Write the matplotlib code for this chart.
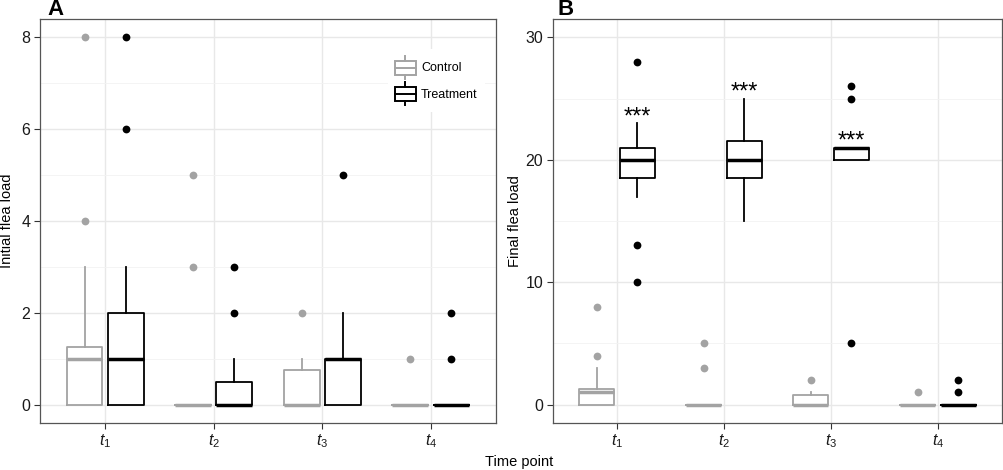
import matplotlib
matplotlib.use("Agg")
import matplotlib.pyplot as plt
from matplotlib.ticker import MultipleLocator
from matplotlib.legend_handler import HandlerBase
from matplotlib.patches import Rectangle, Patch
from matplotlib.lines import Line2D

plt.rcParams['font.family'] = ['Liberation Sans', 'DejaVu Sans']
plt.rcParams['mathtext.fontset'] = 'custom'
plt.rcParams['mathtext.it'] = 'Liberation Sans:italic'
plt.rcParams['mathtext.rm'] = 'Liberation Sans'

# data (box stats per time point)
time_points = ['$t_1$', '$t_2$', '$t_3$', '$t_4$']
groups = ['Control', 'Treatment']

# panel A - initial flea load
a_ctrl_q1 = [0, 0, 0, 0]
a_ctrl_med = [1, 0, 0, 0]
a_ctrl_q3 = [1.25, 0, 0.75, 0]
a_ctrl_lo = [0, 0, 0, 0]
a_ctrl_hi = [3, 0, 1, 0]
a_ctrl_out = [[4, 8], [3, 5], [2], [1]]

a_trt_q1 = [0, 0, 0, 0]
a_trt_med = [1, 0, 1, 0]
a_trt_q3 = [2, 0.5, 1, 0]
a_trt_lo = [0, 0, 0, 0]
a_trt_hi = [3, 1, 2, 0]
a_trt_out = [[6, 8], [2, 3], [5], [1, 2]]

# panel B - final flea load
b_ctrl_q1 = [0, 0, 0, 0]
b_ctrl_med = [1, 0, 0, 0]
b_ctrl_q3 = [1.25, 0, 0.75, 0]
b_ctrl_lo = [0, 0, 0, 0]
b_ctrl_hi = [3, 0, 1, 0]
b_ctrl_out = [[4, 8], [3, 5], [2], [1]]

b_trt_q1 = [18.5, 18.5, 20, 0]
b_trt_med = [20, 20, 21, 0]
b_trt_q3 = [21, 21.5, 21, 0]
b_trt_lo = [17, 15, 20, 0]
b_trt_hi = [23, 25, 21, 0]
b_trt_out = [[10, 13, 28], [], [5, 25, 26], [1, 2]]

signif = ['***', '***', '***', '']

ctrl_col = '#a3a3a3'
trt_col = '#000000'
grid_col = '#e8e8e8'
frame_col = '#555555'


def make_stats(q1, med, q3, lo, hi, out):
    return [dict(q1=q1[i], med=med[i], q3=q3[i], whislo=lo[i], whishi=hi[i], fliers=out[i])
            for i in range(len(q1))]


def draw_group(ax, stats, offset, col, lw_box, lw_med):
    pos = [i + 1 + offset for i in range(len(stats))]
    ax.bxp(stats, positions=pos, widths=0.33, showcaps=False, patch_artist=False,
           boxprops=dict(color=col, lw=lw_box),
           whiskerprops=dict(color=col, lw=lw_box),
           medianprops=dict(color=col, lw=lw_med, solid_capstyle='butt'),
           flierprops=dict(marker='o', markerfacecolor=col, markeredgecolor='none', markersize=5.6),
           manage_ticks=False, zorder=3)


def style_axes(ax, ylim, major, minor, ylabel):
    ax.set_xlim(0.4, 4.6)
    ax.set_ylim(*ylim)
    ax.set_xticks([1, 2, 3, 4])
    ax.set_xticklabels(time_points)
    ax.yaxis.set_major_locator(MultipleLocator(major))
    ax.yaxis.set_minor_locator(MultipleLocator(minor))
    ax.grid(True, which='major', color=grid_col, lw=1.0, zorder=0)
    ax.grid(True, which='minor', axis='y', color='#f2f2f2', lw=0.6, zorder=0)
    ax.set_axisbelow(True)
    ax.tick_params(axis='both', which='major', length=4, width=0.8, color='#333333',
                   labelsize=11.5, labelcolor='#1a1a1a', pad=3)
    ax.tick_params(axis='y', which='minor', length=0)
    for s in ax.spines.values():
        s.set_color(frame_col)
        s.set_linewidth(0.9)
    ax.set_ylabel(ylabel, fontsize=10.5, labelpad=4)


class BoxHandler(HandlerBase):
    def create_artists(self, legend, orig_handle, xdescent, ydescent, width, height, fontsize, trans):
        col = orig_handle.get_edgecolor()
        x0, y0 = -xdescent, -ydescent
        box = Rectangle((x0, y0 + 0.2 * height), width, 0.6 * height, fill=False,
                        edgecolor=col, lw=1.4, transform=trans)
        med = Line2D([x0, x0 + width], [y0 + 0.5 * height] * 2, color=col, lw=1.4, transform=trans)
        w1 = Line2D([x0 + width / 2] * 2, [y0, y0 + 0.2 * height], color=col, lw=1.4, transform=trans)
        w2 = Line2D([x0 + width / 2] * 2, [y0 + 0.8 * height, y0 + height], color=col, lw=1.4, transform=trans)
        return [box, med, w1, w2]


fig = plt.figure(figsize=(10.04, 4.70), dpi=100)
W, H = 1004, 470
axA = fig.add_axes([40 / W, 47 / H, 456 / W, 404 / H])
axB = fig.add_axes([553 / W, 47 / H, 449 / W, 404 / H])

# panel A
draw_group(axA, make_stats(a_ctrl_q1, a_ctrl_med, a_ctrl_q3, a_ctrl_lo, a_ctrl_hi, a_ctrl_out),
           -0.19, ctrl_col, 1.3, 2.5)
draw_group(axA, make_stats(a_trt_q1, a_trt_med, a_trt_q3, a_trt_lo, a_trt_hi, a_trt_out),
           0.19, trt_col, 1.3, 2.5)
style_axes(axA, (-0.4, 8.4), 2, 1, 'Initial flea load')

handles = [Patch(edgecolor=ctrl_col, facecolor='none'), Patch(edgecolor=trt_col, facecolor='none')]
leg = axA.legend(handles, groups, handler_map={Patch: BoxHandler()}, loc='upper left',
                 bbox_to_anchor=(0.763, 0.925), borderaxespad=0, fontsize=9,
                 handlelength=1.7, handleheight=2.45, labelspacing=0.25, handletextpad=0.4,
                 borderpad=0.55, frameon=True, fancybox=False)
leg.get_frame().set_edgecolor('none')
leg.get_frame().set_facecolor('white')
leg.get_frame().set_alpha(1)

# panel B
draw_group(axB, make_stats(b_ctrl_q1, b_ctrl_med, b_ctrl_q3, b_ctrl_lo, b_ctrl_hi, b_ctrl_out),
           -0.19, ctrl_col, 1.3, 2.5)
draw_group(axB, make_stats(b_trt_q1, b_trt_med, b_trt_q3, b_trt_lo, b_trt_hi, b_trt_out),
           0.19, trt_col, 1.3, 2.5)
style_axes(axB, (-1.5, 31.5), 10, 5, 'Final flea load')

for i, lab in enumerate(signif):
    if lab:
        axB.text(i + 1 + 0.19, b_trt_hi[i], lab, ha='center', va='baseline',
                 fontsize=17, color='black', zorder=4)

# y labels placed like the reference
axA.yaxis.set_label_coords(-26 / 456, 0.5)
axB.yaxis.set_label_coords(-31 / 449, 0.5)

fig.text(47 / W, 1 - 15 / H, 'A', fontsize=16, fontweight='bold', va='baseline', ha='left')
fig.text(558 / W, 1 - 15 / H, 'B', fontsize=16, fontweight='bold', va='baseline', ha='left')
fig.text(519 / W, 1 - 455 / H, 'Time point', fontsize=10.5, ha='center', va='top')

fig.savefig('out.png', dpi=100)
